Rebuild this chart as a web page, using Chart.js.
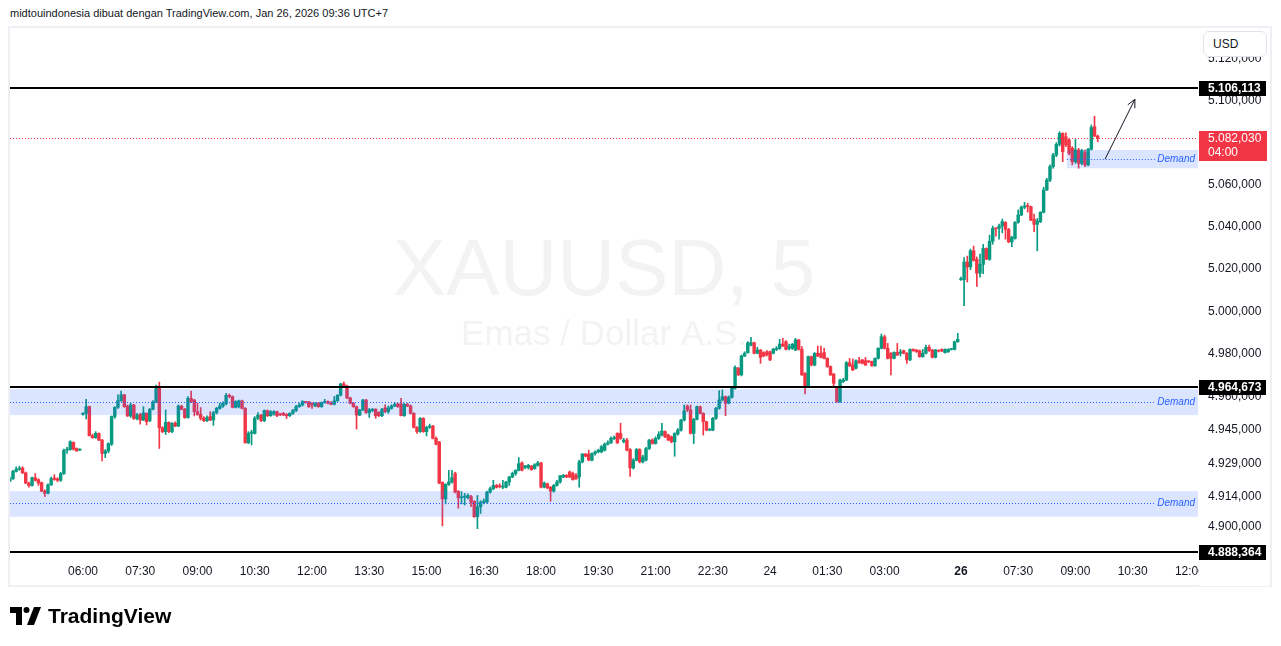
<!DOCTYPE html>
<html lang="id">
<head>
<meta charset="utf-8">
<title>XAUUSD, 5 - TradingView</title>
<script src="https://cdn.jsdelivr.net/npm/chart.js@4.4.1/dist/chart.umd.min.js"></script>
<style>
  html, body { margin: 0; padding: 0; background: #fff; }
  body { position: relative; width: 1281px; height: 646px; overflow: hidden; font-family: "Liberation Sans", Arial, sans-serif; color: #131722; }
  #grafik { position: absolute; left: 0; top: 0; }
  .judul { position: absolute; left: 10px; top: 6px; font-size: 11px; line-height: 14px; white-space: nowrap; }
  .usd { position: absolute; left: 1203px; top: 31px; width: 64px; height: 26px; box-sizing: border-box; border: 1px solid #e0e3eb; border-radius: 6px; background: #fff; font-size: 12px; line-height: 24px; padding-left: 9px; }
  .logo { position: absolute; left: 10px; top: 604px; height: 24px; display: flex; align-items: center; }
  .logo span { font-weight: bold; font-size: 21px; margin-left: 7px; color: #000; }
</style>
</head>
<body>
<div class="judul">midtouindonesia dibuat dengan TradingView.com, Jan 26, 2026 09:36 UTC+7</div>
<canvas id="grafik" width="1281" height="646"></canvas>
<div class="usd">USD</div>
<div class="logo">
  <svg width="31" height="18" viewBox="0 0 31 18">
    <path d="M0 0 H12 V18 H6 V6 H0 Z" fill="#000"/>
    <circle cx="16.5" cy="3" r="3" fill="#000"/>
    <path d="M17 18 L24 0 H31 L24 18 Z" fill="#000"/>
  </svg>
  <span>TradingView</span>
</div>
<script>
// Data lilin 5 menit XAUUSD
const pembukaan = [
  4921.0, 4922.1, 4925.5, 4926.5, 4927.1, 4924.8, 4920.1, 4919.0, 4922.6, 4921.7,
  4920.3, 4916.4, 4915.4, 4919.3, 4922.4, 4922.1, 4921.4, 4924.5, 4935.3, 4935.6,
  4938.9, 4936.1, 4935.3, 4951.9, 4952.4, 4955.5, 4942.0, 4941.1, 4943.1, 4940.0,
  4933.8, 4934.9, 4938.1, 4950.9, 4955.2, 4958.3, 4961.0, 4955.8, 4951.2, 4956.3,
  4949.9, 4951.9, 4949.3, 4952.4, 4949.0, 4954.3, 4957.7, 4964.1, 4945.7, 4943.9,
  4948.2, 4943.9, 4947.8, 4946.5, 4955.8, 4954.3, 4950.4, 4959.4, 4958.6, 4953.2,
  4951.9, 4950.1, 4949.0, 4950.9, 4949.3, 4952.7, 4954.7, 4955.8, 4956.8, 4960.8,
  4960.2, 4955.2, 4955.5, 4958.2, 4954.7, 4938.7, 4943.1, 4943.1, 4950.1, 4951.6,
  4949.0, 4953.7, 4951.3, 4952.1, 4953.2, 4951.9, 4952.4, 4951.9, 4951.3, 4952.4,
  4953.7, 4955.5, 4956.3, 4957.7, 4957.7, 4957.1, 4955.8, 4957.1, 4955.5, 4957.4,
  4957.9, 4957.4, 4956.6, 4958.2, 4960.8, 4966.1, 4965.1, 4959.6, 4957.1, 4955.5,
  4951.6, 4954.0, 4958.6, 4952.7, 4953.7, 4954.3, 4952.9, 4951.3, 4954.9, 4953.2,
  4954.7, 4955.8, 4956.8, 4956.8, 4951.3, 4956.6, 4955.8, 4952.4, 4945.9, 4943.9,
  4950.1, 4943.9, 4945.9, 4946.5, 4940.8, 4939.1, 4920.4, 4912.8, 4919.5, 4920.6,
  4924.5, 4916.2, 4913.3, 4913.6, 4913.3, 4913.9, 4911.7, 4904.6, 4909.2, 4911.3,
  4911.3, 4915.9, 4917.5, 4919.0, 4918.6, 4918.2, 4918.2, 4920.6, 4922.9, 4924.5,
  4926.0, 4929.4, 4927.3, 4927.3, 4927.9, 4926.8, 4928.3, 4929.4, 4918.2, 4919.8,
  4918.2, 4916.4, 4919.0, 4920.6, 4922.9, 4923.7, 4925.2, 4924.5, 4923.7, 4922.9,
  4929.9, 4933.5, 4933.5, 4930.7, 4933.8, 4934.5, 4934.5, 4935.3, 4938.1, 4938.7,
  4940.6, 4943.1, 4943.1, 4939.2, 4940.0, 4935.6, 4927.1, 4930.7, 4935.6, 4929.9,
  4930.7, 4936.1, 4940.0, 4938.4, 4940.8, 4942.3, 4943.9, 4942.3, 4941.5, 4939.2,
  4942.8, 4944.6, 4949.3, 4955.8, 4954.0, 4943.1, 4949.6, 4955.5, 4952.4, 4948.5,
  4944.6, 4944.6, 4950.1, 4954.7, 4958.6, 4960.2, 4957.1, 4959.9, 4964.1, 4973.4,
  4970.3, 4979.1, 4980.7, 4984.2, 4985.3, 4980.4, 4981.9, 4980.7, 4981.1, 4981.1,
  4980.4, 4982.2, 4982.7, 4984.7, 4985.8, 4982.7, 4982.7, 4981.9, 4986.6, 4982.2,
  4971.0, 4965.3, 4978.8, 4974.9, 4980.4, 4980.4, 4980.7, 4978.0, 4974.2, 4970.7,
  4964.4, 4957.9, 4967.2, 4967.9, 4976.0, 4974.9, 4973.4, 4976.9, 4977.3, 4976.9,
  4976.5, 4976.5, 4974.6, 4978.0, 4982.7, 4988.1, 4982.7, 4980.4, 4978.0, 4980.8,
  4980.4, 4981.6, 4980.4, 4977.3, 4982.2, 4981.9, 4981.6, 4978.8, 4980.4, 4983.2,
  4981.9, 4978.5, 4981.5, 4982.2, 4980.7, 4981.1, 4982.2, 4982.2, 4985.8, 5014.9,
  5014.9, 5023.2, 5020.9, 5028.5, 5024.5, 5018.0, 5022.1, 5029.6, 5024.5, 5033.0,
  5039.1, 5039.1, 5040.2, 5041.9, 5038.6, 5032.7, 5034.3, 5041.9, 5045.4, 5049.1,
  5049.7, 5049.4, 5043.4, 5041.0, 5042.3, 5046.7, 5057.3, 5062.0, 5068.4, 5073.9,
  5079.0, 5084.2, 5082.6, 5081.0, 5077.1, 5070.7, 5076.3, 5069.9, 5075.0, 5069.2,
  5076.6, 5087.4, 5082.9
];
const tertinggi = [
  4922.9, 4926.0, 4927.6, 4927.9, 4927.6, 4925.2, 4920.6, 4922.9, 4924.5, 4922.1,
  4920.6, 4917.0, 4919.8, 4922.9, 4924.0, 4922.6, 4925.1, 4935.8, 4936.6, 4939.7,
  4939.2, 4936.4, 4936.0, 4952.7, 4958.9, 4955.8, 4942.8, 4943.9, 4943.4, 4940.3,
  4935.6, 4938.7, 4951.2, 4955.5, 4961.0, 4962.8, 4961.3, 4956.3, 4957.1, 4956.6,
  4952.4, 4952.4, 4955.5, 4952.7, 4954.7, 4958.3, 4965.6, 4966.9, 4946.2, 4954.0,
  4948.5, 4948.1, 4948.5, 4956.3, 4956.1, 4954.7, 4960.2, 4962.8, 4958.9, 4957.1,
  4955.1, 4950.9, 4951.2, 4953.2, 4953.3, 4955.2, 4957.1, 4957.7, 4961.7, 4961.4,
  4960.5, 4958.3, 4958.6, 4958.6, 4955.1, 4943.9, 4944.6, 4950.9, 4952.7, 4951.9,
  4954.0, 4954.0, 4953.7, 4953.7, 4953.5, 4952.4, 4952.9, 4952.3, 4952.7, 4954.3,
  4956.1, 4957.1, 4958.3, 4958.0, 4958.0, 4957.4, 4957.4, 4957.4, 4957.7, 4958.9,
  4958.2, 4957.9, 4960.2, 4961.1, 4966.4, 4967.0, 4965.5, 4959.9, 4957.4, 4955.8,
  4954.3, 4958.9, 4958.9, 4954.7, 4954.7, 4954.6, 4953.2, 4954.7, 4956.3, 4955.8,
  4956.4, 4957.4, 4957.1, 4959.4, 4957.1, 4957.1, 4956.3, 4952.7, 4946.2, 4950.4,
  4950.4, 4946.5, 4947.4, 4946.8, 4941.5, 4939.4, 4920.7, 4919.8, 4926.0, 4926.0,
  4925.2, 4916.7, 4916.2, 4915.4, 4915.1, 4914.4, 4912.0, 4914.4, 4912.0, 4912.8,
  4916.4, 4918.2, 4921.4, 4919.5, 4919.8, 4921.4, 4920.9, 4923.2, 4925.2, 4926.3,
  4931.9, 4929.9, 4928.3, 4928.8, 4928.3, 4929.1, 4930.2, 4929.7, 4920.6, 4920.1,
  4918.6, 4919.5, 4921.4, 4923.7, 4924.1, 4924.0, 4925.7, 4925.2, 4924.5, 4930.7,
  4933.8, 4933.8, 4935.3, 4934.1, 4935.0, 4935.8, 4937.5, 4938.7, 4939.7, 4941.5,
  4941.9, 4943.4, 4947.8, 4940.8, 4940.8, 4936.0, 4931.4, 4936.1, 4936.0, 4933.0,
  4936.6, 4940.3, 4940.6, 4941.5, 4943.9, 4947.8, 4944.3, 4942.8, 4941.9, 4943.4,
  4945.4, 4949.6, 4956.3, 4956.3, 4956.3, 4950.1, 4955.8, 4955.8, 4952.7, 4948.8,
  4945.4, 4950.5, 4955.2, 4963.0, 4963.3, 4960.5, 4960.5, 4964.8, 4974.5, 4973.8,
  4979.6, 4981.1, 4985.8, 4987.8, 4985.6, 4983.2, 4982.2, 4981.1, 4981.6, 4981.4,
  4982.7, 4983.5, 4986.9, 4987.4, 4986.3, 4984.7, 4985.0, 4987.4, 4986.9, 4983.5,
  4971.4, 4979.1, 4979.1, 4980.7, 4983.8, 4983.8, 4982.7, 4978.3, 4974.5, 4971.0,
  4964.8, 4968.3, 4968.7, 4976.5, 4978.0, 4977.7, 4977.3, 4978.5, 4977.6, 4978.5,
  4976.9, 4976.8, 4978.3, 4983.0, 4989.4, 4988.9, 4985.0, 4980.7, 4981.1, 4985.0,
  4982.2, 4981.9, 4980.7, 4982.5, 4982.5, 4982.2, 4981.9, 4982.2, 4984.2, 4984.2,
  4982.2, 4982.2, 4981.9, 4982.5, 4982.5, 4982.5, 4982.7, 4986.1, 4989.7, 5016.1,
  5025.3, 5026.0, 5029.3, 5030.7, 5025.6, 5026.9, 5031.5, 5029.9, 5035.9, 5040.2,
  5039.4, 5041.1, 5043.5, 5042.3, 5039.1, 5035.4, 5042.3, 5047.8, 5049.7, 5051.4,
  5051.0, 5049.7, 5045.9, 5043.8, 5047.0, 5058.6, 5062.8, 5069.2, 5074.7, 5079.8,
  5085.0, 5084.5, 5084.5, 5081.8, 5077.9, 5081.3, 5077.1, 5076.6, 5076.3, 5077.1,
  5088.2, 5092.4, 5083.4
];
const terendah = [
  4920.9, 4921.8, 4925.2, 4926.0, 4924.5, 4919.8, 4918.2, 4918.7, 4921.0, 4919.0,
  4916.1, 4913.9, 4915.1, 4919.0, 4921.4, 4920.7, 4920.9, 4924.1, 4933.8, 4935.3,
  4935.3, 4934.7, 4935.2, 4951.6, 4949.8, 4941.9, 4940.8, 4940.8, 4939.7, 4930.4,
  4931.9, 4934.1, 4937.5, 4950.1, 4954.7, 4957.9, 4955.2, 4950.9, 4950.5, 4949.6,
  4949.3, 4947.4, 4949.0, 4947.0, 4948.5, 4954.0, 4957.4, 4936.1, 4943.4, 4942.6,
  4943.4, 4943.4, 4946.2, 4946.2, 4954.0, 4950.1, 4950.1, 4957.4, 4951.2, 4951.5,
  4949.3, 4948.5, 4948.5, 4949.0, 4946.8, 4952.1, 4954.3, 4955.2, 4956.3, 4959.6,
  4954.9, 4954.9, 4954.9, 4954.4, 4938.6, 4938.4, 4937.8, 4942.8, 4949.6, 4948.5,
  4948.5, 4950.9, 4951.0, 4951.6, 4950.9, 4951.3, 4951.3, 4949.9, 4950.9, 4951.9,
  4953.2, 4955.2, 4955.8, 4957.1, 4955.1, 4954.7, 4955.5, 4955.2, 4955.2, 4957.1,
  4956.8, 4956.3, 4956.3, 4957.9, 4960.5, 4964.8, 4959.2, 4956.8, 4955.2, 4945.1,
  4951.3, 4953.7, 4952.4, 4950.5, 4953.2, 4950.1, 4950.9, 4950.9, 4952.7, 4952.4,
  4954.3, 4955.5, 4955.2, 4951.2, 4951.0, 4955.5, 4952.1, 4945.6, 4943.1, 4943.6,
  4943.6, 4941.9, 4945.4, 4940.5, 4937.8, 4919.8, 4900.4, 4910.5, 4919.0, 4920.1,
  4915.6, 4908.5, 4910.5, 4910.0, 4912.8, 4909.2, 4904.3, 4899.1, 4906.1, 4910.5,
  4910.8, 4915.4, 4917.0, 4917.8, 4917.9, 4917.5, 4917.9, 4919.0, 4922.6, 4923.7,
  4925.7, 4925.7, 4926.8, 4926.6, 4926.0, 4926.5, 4927.9, 4917.9, 4917.9, 4917.5,
  4911.7, 4915.9, 4918.7, 4920.1, 4922.6, 4922.6, 4922.6, 4921.4, 4921.8, 4918.2,
  4929.4, 4932.2, 4930.4, 4930.4, 4933.0, 4934.1, 4934.1, 4934.9, 4937.7, 4938.4,
  4940.3, 4938.4, 4940.3, 4938.7, 4935.0, 4923.2, 4926.6, 4930.4, 4929.4, 4929.4,
  4930.4, 4935.6, 4938.1, 4938.1, 4940.3, 4941.9, 4941.1, 4939.7, 4938.7, 4932.5,
  4942.3, 4944.1, 4948.8, 4953.2, 4942.8, 4938.4, 4949.3, 4952.1, 4942.3, 4944.3,
  4944.3, 4944.3, 4949.6, 4954.3, 4958.2, 4951.3, 4956.8, 4959.4, 4963.6, 4970.0,
  4969.8, 4978.8, 4980.4, 4983.8, 4980.1, 4980.1, 4975.7, 4978.8, 4979.1, 4976.9,
  4980.1, 4981.6, 4982.2, 4983.5, 4981.9, 4981.9, 4982.2, 4981.6, 4981.9, 4970.0,
  4961.4, 4964.8, 4974.5, 4974.5, 4978.8, 4978.2, 4977.7, 4973.8, 4970.0, 4964.8,
  4957.5, 4957.5, 4966.7, 4967.6, 4974.2, 4972.3, 4973.1, 4975.7, 4975.4, 4974.6,
  4976.0, 4974.3, 4974.3, 4977.7, 4982.4, 4982.4, 4977.7, 4970.3, 4977.7, 4979.3,
  4979.1, 4980.1, 4975.7, 4976.9, 4981.3, 4980.8, 4978.5, 4978.5, 4980.1, 4981.3,
  4978.2, 4978.2, 4981.0, 4981.1, 4980.4, 4980.8, 4981.9, 4981.9, 4985.5, 5014.5,
  5002.7, 5013.8, 5019.6, 5023.6, 5011.7, 5016.1, 5017.7, 5024.4, 5024.0, 5031.6,
  5035.4, 5034.0, 5037.0, 5034.0, 5032.3, 5030.4, 5034.0, 5041.5, 5045.1, 5048.4,
  5046.8, 5042.7, 5037.5, 5028.5, 5041.8, 5046.4, 5057.0, 5061.2, 5067.6, 5073.1,
  5078.2, 5070.7, 5077.9, 5073.9, 5069.2, 5069.9, 5067.6, 5069.2, 5068.4, 5068.7,
  5076.3, 5082.6, 5080.2
];
const penutupan = [
  4922.1, 4925.5, 4926.5, 4926.8, 4924.8, 4920.1, 4919.0, 4922.6, 4921.4, 4920.1,
  4916.4, 4915.4, 4919.3, 4922.1, 4921.8, 4921.4, 4924.5, 4935.3, 4935.8, 4939.2,
  4935.8, 4935.0, 4935.6, 4952.4, 4955.5, 4942.0, 4941.1, 4943.1, 4940.0, 4933.8,
  4934.9, 4938.4, 4950.9, 4955.2, 4958.3, 4961.0, 4955.5, 4951.2, 4956.3, 4949.9,
  4951.6, 4949.3, 4952.7, 4948.5, 4954.3, 4957.7, 4964.1, 4945.7, 4943.9, 4948.2,
  4943.9, 4947.8, 4946.5, 4955.8, 4954.3, 4950.4, 4959.4, 4957.9, 4953.2, 4951.9,
  4950.1, 4949.0, 4950.5, 4949.3, 4952.7, 4954.7, 4955.8, 4957.1, 4960.8, 4960.2,
  4955.2, 4957.9, 4958.2, 4954.7, 4938.7, 4943.1, 4943.7, 4950.1, 4951.6, 4949.0,
  4953.7, 4951.3, 4953.2, 4953.2, 4951.3, 4951.8, 4951.6, 4951.3, 4952.4, 4953.7,
  4955.5, 4956.3, 4957.9, 4957.5, 4955.5, 4956.3, 4957.1, 4955.5, 4957.4, 4957.9,
  4957.1, 4956.6, 4958.2, 4960.8, 4966.1, 4965.1, 4959.6, 4957.1, 4955.5, 4951.6,
  4954.0, 4958.6, 4952.7, 4954.0, 4954.3, 4951.3, 4951.3, 4954.3, 4953.2, 4954.9,
  4955.8, 4956.6, 4955.5, 4951.3, 4956.6, 4955.8, 4952.4, 4945.9, 4943.9, 4950.1,
  4943.9, 4945.9, 4946.5, 4940.8, 4938.1, 4920.1, 4912.8, 4919.5, 4920.6, 4922.6,
  4915.9, 4913.3, 4913.4, 4913.7, 4914.4, 4911.3, 4904.6, 4909.2, 4911.3, 4911.7,
  4915.9, 4917.5, 4919.0, 4918.2, 4918.5, 4918.3, 4920.6, 4922.9, 4924.5, 4926.0,
  4929.1, 4926.0, 4928.0, 4928.3, 4926.3, 4928.6, 4929.4, 4918.2, 4920.1, 4917.9,
  4916.4, 4919.0, 4920.6, 4923.4, 4923.7, 4922.9, 4922.9, 4921.7, 4922.1, 4929.9,
  4933.5, 4932.5, 4930.7, 4933.8, 4934.5, 4935.3, 4936.9, 4938.1, 4938.7, 4940.8,
  4941.2, 4938.7, 4940.8, 4940.0, 4935.3, 4927.1, 4930.7, 4935.6, 4929.9, 4932.2,
  4936.1, 4940.0, 4938.4, 4940.8, 4942.6, 4944.2, 4941.5, 4940.0, 4939.2, 4943.1,
  4944.6, 4949.3, 4953.5, 4954.0, 4943.1, 4949.6, 4955.5, 4952.4, 4948.5, 4944.6,
  4945.0, 4950.1, 4954.7, 4958.6, 4960.2, 4957.1, 4959.9, 4964.1, 4973.8, 4970.3,
  4979.1, 4980.4, 4985.3, 4985.3, 4980.4, 4981.9, 4978.5, 4979.1, 4979.6, 4977.3,
  4982.2, 4982.7, 4984.7, 4983.8, 4982.2, 4983.5, 4984.6, 4986.6, 4982.2, 4970.3,
  4965.3, 4978.8, 4974.9, 4980.4, 4979.1, 4978.5, 4978.0, 4974.2, 4970.3, 4966.4,
  4957.9, 4967.9, 4967.9, 4976.0, 4974.5, 4972.6, 4976.9, 4976.0, 4975.7, 4974.9,
  4976.4, 4974.6, 4978.0, 4982.7, 4988.1, 4982.7, 4978.0, 4978.0, 4980.8, 4979.6,
  4981.1, 4980.4, 4977.3, 4982.2, 4981.6, 4981.1, 4978.8, 4980.4, 4983.2, 4981.6,
  4978.5, 4981.9, 4981.4, 4981.5, 4982.2, 4982.2, 4982.3, 4985.8, 4986.9, 5015.2,
  5023.2, 5020.9, 5028.5, 5024.0, 5018.0, 5022.1, 5029.6, 5024.5, 5033.0, 5039.1,
  5038.9, 5040.2, 5042.3, 5038.6, 5032.7, 5034.8, 5041.9, 5045.4, 5049.1, 5049.7,
  5049.4, 5043.0, 5041.0, 5042.6, 5046.7, 5057.3, 5062.0, 5068.4, 5073.9, 5079.0,
  5084.2, 5075.5, 5078.7, 5074.7, 5070.7, 5076.3, 5069.9, 5076.0, 5069.2, 5076.6,
  5087.0, 5082.9, 5082.03
];

// Sumbu waktu: posisi lilin (indeks) dan teksnya
const indeksWaktu = [23, 41, 59, 77, 95, 113, 131, 149, 167, 185, 203, 221, 239, 257, 275, 299, 317, 335, 353, 371];
const labelWaktu = ['06:00', '07:30', '09:00', '10:30', '12:00', '13:30', '15:00', '16:30', '18:00', '19:30',
  '21:00', '22:30', '24', '01:30', '03:00', '26', '07:30', '09:00', '10:30', '12:00'];
const indeksHari = [299];

// Sumbu harga
const tickHarga = [4900, 4914, 4929, 4945, 4960, 4980, 5000, 5020, 5040, 5060, 5080, 5100, 5120];
const levelHarga = [5106.113, 4964.673, 4888.364];
const hargaTerakhir = 5082.03;
const hitungMundur = '04:00';

// Zona demand (gambar pengguna)
const demandAtas = [5076.3, 4963.7, 4916.4];
const demandBawah = [5067.6, 4951.6, 4904.6];
const demandTengah = [5071.9, 4957.8, 4910.8];
const demandMulai = [332.3, 0, 0];
const akhirGarisDemand = 360;
const panahDari = [344.3, 5071.9];
const panahKe = [353.7, 5100.5];

const hijau = '#089981';
const merah = '#F23645';
const biru = '#2962FF';
const huruf = '"Liberation Sans", Arial, sans-serif';

function formatHarga(v) {
  const s = v.toFixed(3).split('.');
  return s[0].replace(/\B(?=(\d{3})+(?!\d))/g, '.') + ',' + s[1];
}

function warnaLilin(ctx) {
  const i = ctx.dataIndex;
  return penutupan[i] >= pembukaan[i] ? hijau : merah;
}

const anotasi = {
  id: 'anotasi',
  beforeDraw(chart) {
    const ctx = chart.ctx;
    ctx.save();
    ctx.strokeStyle = '#eef0f3';
    ctx.lineWidth = 2;
    ctx.strokeRect(9, 27, 1262, 559);
    ctx.restore();
  },
  beforeDatasetsDraw(chart) {
    // watermark simbol
    const { ctx, chartArea: a } = chart;
    const cx = (a.left + a.right) / 2;
    const cy = (a.top + a.bottom) / 2;
    ctx.save();
    ctx.fillStyle = '#f3f3f4';
    ctx.textAlign = 'center';
    ctx.textBaseline = 'alphabetic';
    ctx.font = '80px ' + huruf;
    ctx.fillText('XAUUSD, 5', cx, cy + 3);
    ctx.font = '35px ' + huruf;
    ctx.fillText('Emas / Dollar A.S.', cx, cy + 53);
    ctx.restore();
  },
  afterDatasetsDraw(chart) {
    const { ctx, chartArea: a, scales: { x, y } } = chart;
    ctx.save();
    ctx.beginPath();
    ctx.rect(a.left, a.top, a.right - a.left, a.bottom - a.top);
    ctx.clip();

    // zona demand
    demandAtas.forEach((atas, k) => {
      const x0 = Math.max(a.left, x.getPixelForValue(demandMulai[k]));
      const y0 = y.getPixelForValue(atas);
      const y1 = y.getPixelForValue(demandBawah[k]);
      ctx.fillStyle = 'rgba(41, 98, 255, 0.17)';
      ctx.fillRect(x0, y0, a.right - x0, y1 - y0);
      const ym = Math.round(y.getPixelForValue(demandTengah[k])) + 0.5;
      ctx.strokeStyle = biru;
      ctx.lineWidth = 1;
      ctx.setLineDash([1, 2]);
      ctx.beginPath();
      ctx.moveTo(x0, ym);
      ctx.lineTo(x.getPixelForValue(akhirGarisDemand), ym);
      ctx.stroke();
      ctx.setLineDash([]);
      ctx.fillStyle = biru;
      ctx.font = 'italic 10px ' + huruf;
      ctx.textAlign = 'right';
      ctx.textBaseline = 'middle';
      ctx.fillText('Demand', a.right - 3, ym);
    });

    // garis harga terakhir
    const yc = Math.round(y.getPixelForValue(hargaTerakhir)) + 0.5;
    ctx.strokeStyle = merah;
    ctx.lineWidth = 1;
    ctx.setLineDash([1, 2]);
    ctx.beginPath();
    ctx.moveTo(a.left, yc);
    ctx.lineTo(a.right, yc);
    ctx.stroke();
    ctx.setLineDash([]);

    // level horizontal
    ctx.fillStyle = '#000';
    levelHarga.forEach((p) => {
      const yy = Math.round(y.getPixelForValue(p));
      ctx.fillRect(a.left, yy - 1, a.right - a.left, 2);
    });

    // panah
    const px0 = x.getPixelForValue(panahDari[0]), py0 = y.getPixelForValue(panahDari[1]);
    const px1 = x.getPixelForValue(panahKe[0]), py1 = y.getPixelForValue(panahKe[1]);
    const sudut = Math.atan2(py1 - py0, px1 - px0);
    ctx.strokeStyle = '#131722';
    ctx.lineWidth = 1;
    ctx.beginPath();
    ctx.moveTo(px0, py0);
    ctx.lineTo(px1, py1);
    ctx.moveTo(px1 - 9 * Math.cos(sudut - 0.45), py1 - 9 * Math.sin(sudut - 0.45));
    ctx.lineTo(px1, py1);
    ctx.lineTo(px1 - 9 * Math.cos(sudut + 0.45), py1 - 9 * Math.sin(sudut + 0.45));
    ctx.stroke();
    ctx.restore();
  },
  afterDraw(chart) {
    const { ctx, chartArea: a, scales: { y } } = chart;
    ctx.save();
    ctx.fillStyle = '#fff';
    ctx.fillRect(a.right + 1, a.bottom + 1, 70, 28);
    ctx.textAlign = 'left';
    ctx.textBaseline = 'middle';
    levelHarga.forEach((p) => {
      const yy = Math.round(y.getPixelForValue(p));
      ctx.fillStyle = '#000';
      ctx.fillRect(a.right + 1, yy - 7, 67, 15);
      ctx.fillStyle = '#fff';
      ctx.font = 'bold 12px ' + huruf;
      ctx.fillText(formatHarga(p), a.right + 10, yy + 1);
    });
    const yc = Math.round(y.getPixelForValue(hargaTerakhir));
    ctx.fillStyle = merah;
    ctx.fillRect(a.right + 1, yc - 7, 68, 30);
    ctx.fillStyle = '#fff';
    ctx.font = '12px ' + huruf;
    ctx.fillText(formatHarga(hargaTerakhir), a.right + 10, yc + 1);
    ctx.fillText(hitungMundur, a.right + 10, yc + 15);
    ctx.restore();
  }
};

Chart.defaults.font.family = huruf;

new Chart(document.getElementById('grafik'), {
  type: 'bar',
  data: {
    datasets: [
      {
        label: 'sumbu',
        data: pembukaan.map((o, i) => ({ x: i, y: [terendah[i], tertinggi[i]] })),
        backgroundColor: warnaLilin,
        barThickness: 1,
        grouped: false,
        order: 2
      },
      {
        label: 'badan',
        data: pembukaan.map((o, i) => ({ x: i, y: [o, penutupan[i]] })),
        backgroundColor: warnaLilin,
        barThickness: 2.8,
        minBarLength: 1,
        grouped: false,
        order: 1
      }
    ]
  },
  options: {
    responsive: false,
    animation: false,
    events: [],
    layout: { padding: { left: 10, right: 11, top: 27, bottom: 60 } },
    plugins: { legend: { display: false }, tooltip: { enabled: false } },
    scales: {
      x: {
        type: 'linear',
        min: 0.06,
        max: 373.53,
        offset: false,
        bounds: 'data',
        grid: { display: false, drawTicks: false },
        border: { display: false },
        afterBuildTicks: (s) => { s.ticks = indeksWaktu.map((v) => ({ value: v })); },
        afterFit: (s) => { s.height = 29; },
        ticks: {
          autoSkip: false,
          maxRotation: 0,
          padding: 7,
          color: '#131722',
          font: (c) => ({ family: huruf, size: 12, weight: c.tick && indeksHari.includes(c.tick.value) ? 'bold' : 'normal' }),
          callback: (v, i) => labelWaktu[i]
        }
      },
      y: {
        type: 'logarithmic',
        position: 'right',
        min: 4886.1,
        max: 5135.2,
        bounds: 'data',
        grid: { display: false, drawTicks: false },
        border: { display: false },
        afterBuildTicks: (s) => { s.ticks = tickHarga.map((v) => ({ value: v })); },
        afterFit: (s) => { s.width = 72; },
        ticks: {
          autoSkip: false,
          padding: 10,
          color: '#131722',
          font: { family: huruf, size: 12 },
          callback: (v) => formatHarga(v)
        }
      }
    }
  },
  plugins: [anotasi]
});
</script>
</body>
</html>
